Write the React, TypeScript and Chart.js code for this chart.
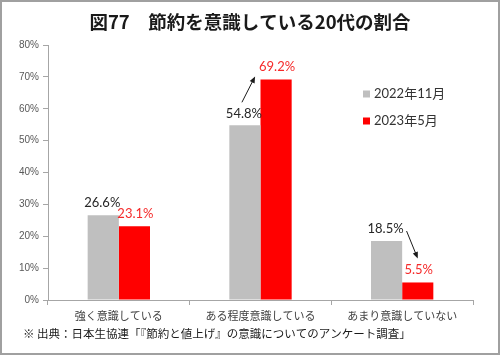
import React, { useEffect, useRef } from "react";
import { Chart, registerables } from "chart.js";

Chart.register(...registerables);

const titleText = "図77　節約を意識している20代の割合";
const footerText = "※ 出典：日本生協連「『節約と値上げ』の意識についてのアンケート調査」";
const categories = ["強く意識している", "ある程度意識している", "あまり意識していない"];
const seriesNames = ["2022年11月", "2023年5月"];
const values2022 = [26.6, 54.8, 18.5];
const values2023 = [23.1, 69.2, 5.5];
const yMax = 80;
const yStep = 10;

const GRAY = "#bfbfbf";
const RED = "#ff0000";
const JP = '"Noto Sans CJK JP", sans-serif';
const NUM = 'Lato, "Noto Sans CJK JP", sans-serif';

function arrow(ctx: CanvasRenderingContext2D, x1: number, y1: number, x2: number, y2: number) {
  const ang = Math.atan2(y2 - y1, x2 - x1);
  const head = 7;
  ctx.save();
  ctx.strokeStyle = "#1a1a1a";
  ctx.fillStyle = "#1a1a1a";
  ctx.lineWidth = 1;
  ctx.beginPath();
  ctx.moveTo(x1, y1);
  ctx.lineTo(x2 - Math.cos(ang) * head * 0.8, y2 - Math.sin(ang) * head * 0.8);
  ctx.stroke();
  ctx.beginPath();
  ctx.moveTo(x2, y2);
  ctx.lineTo(x2 - head * Math.cos(ang - 0.4), y2 - head * Math.sin(ang - 0.4));
  ctx.lineTo(x2 - head * Math.cos(ang + 0.4), y2 - head * Math.sin(ang + 0.4));
  ctx.closePath();
  ctx.fill();
  ctx.restore();
}

const decorPlugin = {
  id: "decor",
  afterDraw(chart: any) {
    const ctx: CanvasRenderingContext2D = chart.ctx;
    const W = chart.width;
    const H = chart.height;
    ctx.save();
    // title
    ctx.fillStyle = "#1a1a1a";
    ctx.font = `bold 18.5px ${JP}`;
    ctx.textAlign = "center";
    ctx.textBaseline = "middle";
    ctx.fillText(titleText, 250, 22);

    // data labels
    const m0 = chart.getDatasetMeta(0);
    const m1 = chart.getDatasetMeta(1);
    ctx.font = `13px ${NUM}`;
    const gl: number[] = [];
    const rl: number[] = [];
    for (let i = 0; i < categories.length; i++) {
      const g = m0.data[i];
      const r = m1.data[i];
      const gy = g.y - 12;
      const ry = r.y - 13;
      gl.push(gy);
      rl.push(ry);
      ctx.fillStyle = "#262626";
      ctx.fillText(values2022[i].toFixed(1) + "%", g.x - 1, gy);
      ctx.fillStyle = "#f52a2a";
      ctx.fillText(values2023[i].toFixed(1) + "%", r.x + 1, ry);
    }

    // arrows
    {
      const g = m0.data[1];
      const r = m1.data[1];
      arrow(ctx, g.x - 3, gl[1] - 11, r.x - 21, rl[1] + 10);
    }
    {
      const g = m0.data[2];
      const r = m1.data[2];
      arrow(ctx, g.x + 20, gl[2] + 2, r.x, rl[2] - 11);
    }

    // legend
    ctx.textAlign = "left";
    ctx.font = `13px ${NUM}`;
    const colors = [GRAY, RED];
    const ly = [94, 121];
    for (let i = 0; i < seriesNames.length; i++) {
      ctx.fillStyle = colors[i];
      ctx.fillRect(363, ly[i] - 3.5, 7, 7);
      ctx.fillStyle = "#333333";
      ctx.fillText(seriesNames[i], 374, ly[i]);
    }

    // footer
    ctx.font = `11.5px ${JP}`;
    ctx.fillStyle = "#1a1a1a";
    ctx.fillText(footerText, 23, 334);

    // border
    ctx.strokeStyle = "#a0a0a0";
    ctx.lineWidth = 2;
    ctx.strokeRect(1, 1, W - 2, H - 2);
    ctx.restore();
  },
};

export default function App() {
  const ref = useRef<HTMLCanvasElement>(null);
  useEffect(() => {
    document.body.style.margin = "0";
    const chart = new Chart(ref.current!, {
      type: "bar",
      data: {
        labels: categories,
        datasets: [
          { label: seriesNames[0], data: values2022, backgroundColor: GRAY, barPercentage: 1, categoryPercentage: 0.44 },
          { label: seriesNames[1], data: values2023, backgroundColor: RED, barPercentage: 1, categoryPercentage: 0.44 },
        ],
      },
      options: {
        responsive: false,
        animation: false,
        devicePixelRatio: 1,
        layout: { padding: { top: 45, right: 27, left: 0, bottom: 0 } },
        plugins: { legend: { display: false }, title: { display: false }, tooltip: { enabled: false } },
        scales: {
          x: {
            grid: { drawOnChartArea: false, drawTicks: true, tickLength: 5, color: "#a6a6a6" },
            border: { display: true, color: "#a6a6a6" },
            ticks: { color: "#404040", font: { family: JP, size: 11 }, padding: 4, maxRotation: 0 },
            afterFit: (s: any) => { s.height = 55; },
          },
          y: {
            min: 0,
            max: yMax,
            grid: { drawOnChartArea: false, drawTicks: true, tickLength: 5, color: "#a6a6a6" },
            border: { display: true, color: "#a6a6a6" },
            ticks: {
              stepSize: yStep,
              color: "#595959",
              font: { family: '"Liberation Sans", Arial, sans-serif', size: 10 },
              padding: 4,
              callback: (v: any) => v + "%",
            },
            afterFit: (s: any) => { s.width = 48; },
          },
        },
      },
      plugins: [decorPlugin],
    });
    return () => chart.destroy();
  }, []);
  return <canvas ref={ref} width={500} height={355} style={{ display: "block" }} />;
}
